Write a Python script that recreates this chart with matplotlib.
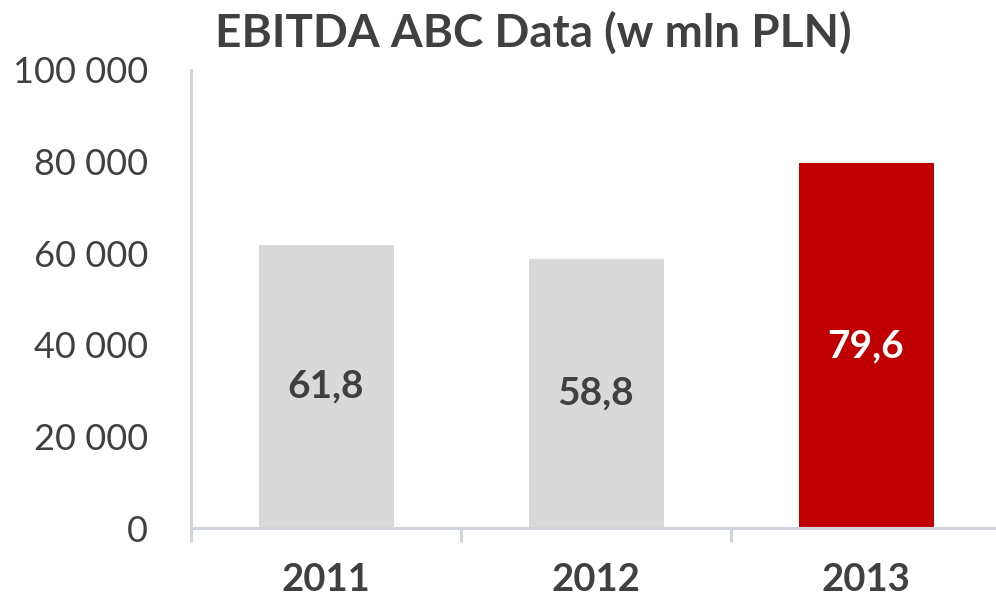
import matplotlib.pyplot as plt
import numpy as np

years = ['2011', '2012', '2013']
ebitda = [61800, 58800, 79600]
labels = ['61,8', '58,8', '79,6']
colors = ['#d9d9d9', '#d9d9d9', '#c00000']
label_colors = ['#404040', '#404040', '#ffffff']
yticks = [0, 20000, 40000, 60000, 80000, 100000]
ytick_labels = ['0', '20 000', '40 000', '60 000', '80 000', '100 000']

plt.rcParams['font.family'] = ['Lato', 'DejaVu Sans']
axis_col = '#d0d5dd'
text_col = '#404040'

fig = plt.figure(figsize=(9.96, 5.98), dpi=100)
ax = fig.add_axes([191 / 996, 1 - 528 / 598, 810 / 996, 458 / 598])

x = np.arange(len(years))
bars = ax.bar(x, ebitda, width=0.5, color=colors)
for b, lab, c in zip(bars, labels, label_colors):
    ax.text(b.get_x() + b.get_width() / 2, b.get_height() / 2, lab,
            ha='center', va='center', fontsize=28, fontweight='bold', color=c)

ax.set_xlim(-0.5, 2.5)
ax.set_ylim(0, 100000)
ax.set_yticks(yticks)
ax.set_yticklabels(ytick_labels)
ax.set_xticks(x)
ax.set_xticklabels(years, fontweight='bold')
ax.set_xticks(np.arange(-0.5, 3, 1), minor=True)

ax.tick_params(axis='y', length=0, pad=31, labelsize=26, labelcolor=text_col)
ax.tick_params(axis='x', which='major', length=0, pad=25, labelsize=27.5, labelcolor=text_col)
ax.tick_params(axis='x', which='minor', length=10, width=2.2, color=axis_col)

for s in ['top', 'right']:
    ax.spines[s].set_visible(False)
for s in ['left', 'bottom']:
    ax.spines[s].set_color(axis_col)
    ax.spines[s].set_linewidth(2.2)

fig.text(533 / 996, 1 - 33 / 598, 'EBITDA ABC Data (w mln PLN)', ha='center', va='center',
         fontsize=33, fontweight='bold', color=text_col)

fig.savefig('out.png', dpi=100)
